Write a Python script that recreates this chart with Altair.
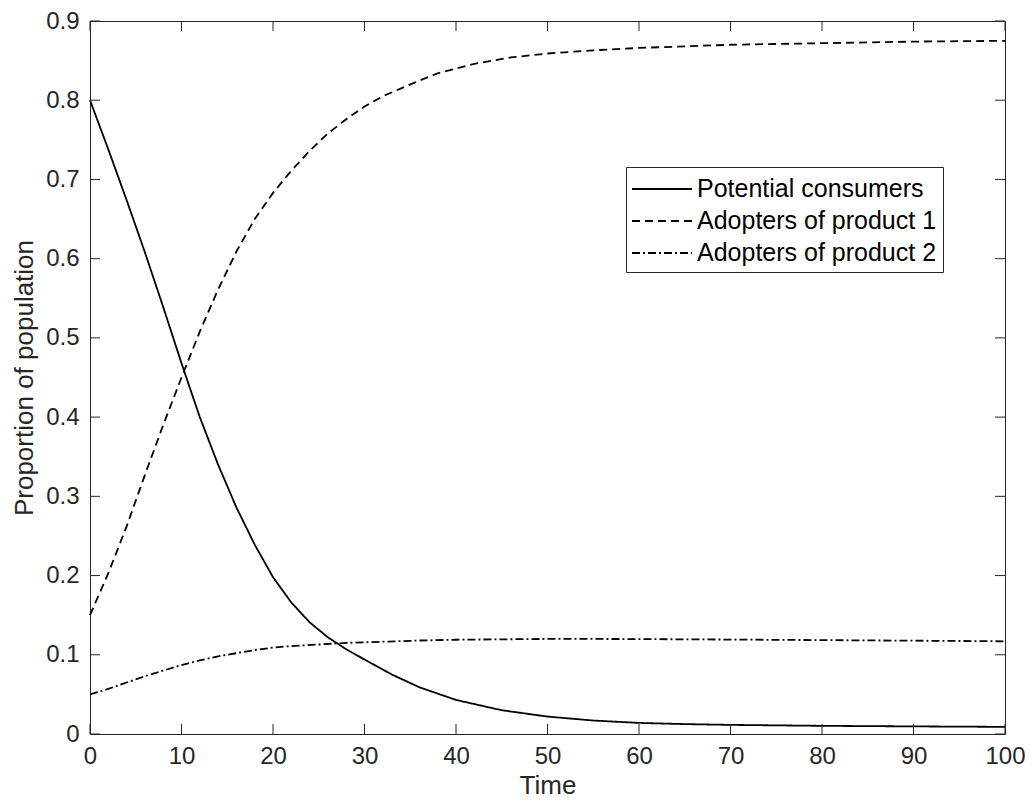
import altair as alt
import pandas as pd

# ---- data ----
series_names = ["Potential consumers", "Adopters of product 1", "Adopters of product 2"]

t_pc = [0, 2, 4, 6, 8, 10, 12, 14, 16, 18, 20, 22, 24, 26, 28, 30, 33, 36, 40, 45, 50, 55, 60, 65, 70, 80, 90, 100]
v_pc = [0.800, 0.738, 0.674, 0.608, 0.539, 0.468, 0.400, 0.340, 0.286, 0.239, 0.198, 0.166, 0.141, 0.122,
        0.107, 0.094, 0.075, 0.059, 0.043, 0.030, 0.022, 0.017, 0.014, 0.0125, 0.0115, 0.0103, 0.0096, 0.009]

t_a1 = [0, 2, 4, 6, 8, 10, 12, 14, 16, 18, 20, 22, 24, 26, 28, 30, 32, 35, 38, 42, 46, 50, 55, 60, 70, 80, 90, 100]
v_a1 = [0.150, 0.203, 0.262, 0.327, 0.390, 0.450, 0.508, 0.561, 0.609, 0.650, 0.683, 0.711, 0.736, 0.758,
        0.776, 0.792, 0.805, 0.820, 0.834, 0.846, 0.854, 0.859, 0.863, 0.866, 0.870, 0.872, 0.874, 0.875]

t_a2 = [0, 2, 4, 6, 8, 10, 12, 14, 16, 18, 20, 22, 25, 28, 32, 36, 40, 45, 50, 55, 60, 70, 80, 90, 100]
v_a2 = [0.050, 0.057, 0.065, 0.073, 0.080, 0.087, 0.093, 0.098, 0.102, 0.106, 0.109, 0.111, 0.113, 0.115,
        0.1165, 0.118, 0.119, 0.1195, 0.120, 0.120, 0.1198, 0.1192, 0.1185, 0.1178, 0.117]

x_ticks = [0, 10, 20, 30, 40, 50, 60, 70, 80, 90, 100]
y_ticks = [0, 0.1, 0.2, 0.3, 0.4, 0.5, 0.6, 0.7, 0.8, 0.9]

# ---- build tables ----
rows = []
for name, ts, vs in zip(series_names, [t_pc, t_a1, t_a2], [v_pc, v_a1, v_a2]):
    for t, v in zip(ts, vs):
        rows.append({"series": name, "t": t, "v": v})
df = pd.DataFrame(rows)
xt = pd.DataFrame({"t": x_ticks})
yt = pd.DataFrame({"v": y_ticks})

W, H = 915, 713
FONT = "Liberation Sans"
AX = "#262626"
TL = 10

xs = alt.Scale(domain=[0, 100], nice=False, zero=False)
ys = alt.Scale(domain=[0, 0.9], nice=False, zero=False)

common = dict(labelFont=FONT, labelFontSize=24, labelColor=AX, labelFlush=False,
              titleFont=FONT, titleFontSize=26, titleFontWeight="normal", titleColor=AX,
              ticks=False, domain=False, grid=False)
x_axis = alt.Axis(values=x_ticks, title="Time", labelPadding=10, titlePadding=4, **common)
y_axis = alt.Axis(values=y_ticks, format="~g", title="Proportion of population",
                  labelPadding=11, titlePadding=8, **common)

lines = alt.Chart(df).mark_line(color="black", strokeWidth=1.8).encode(
    x=alt.X("t:Q", scale=xs, axis=x_axis),
    y=alt.Y("v:Q", scale=ys, axis=y_axis),
    strokeDash=alt.StrokeDash(
        "series:N",
        scale=alt.Scale(domain=series_names, range=[[1, 0], [8, 5], [8, 3, 2, 3]]),
        legend=alt.Legend(
            title=None, orient="none", legendX=536, legendY=146,
            symbolType="M-2,0H2", symbolSize=900, symbolStrokeWidth=1.8,
            symbolStrokeColor="black", symbolOffset=14, labelOffset=19,
            labelFont=FONT, labelFontSize=25,
            labelColor="black", strokeColor=AX, fillColor="white",
            padding=6, rowPadding=3, labelLimit=500,
        ),
    ),
)

bottom = alt.Chart(xt).mark_rule(color=AX, strokeWidth=1).encode(
    x=alt.X("t:Q", scale=xs), y=alt.value(H), y2=alt.value(H - TL))
top = alt.Chart(xt).mark_rule(color=AX, strokeWidth=1).encode(
    x=alt.X("t:Q", scale=xs), y=alt.value(0), y2=alt.value(TL))
left = alt.Chart(yt).mark_rule(color=AX, strokeWidth=1).encode(
    y=alt.Y("v:Q", scale=ys), x=alt.value(0), x2=alt.value(TL))
right = alt.Chart(yt).mark_rule(color=AX, strokeWidth=1).encode(
    y=alt.Y("v:Q", scale=ys), x=alt.value(W), x2=alt.value(W - TL))

chart = alt.layer(lines, bottom, top, left, right).properties(
    width=W, height=H,
    autosize=alt.AutoSizeParams(type="none"),
    padding={"left": 82, "top": 13, "right": 20, "bottom": 68},
).configure_view(stroke=AX, strokeWidth=1)

chart.save("out.html", embed_options={"renderer": "svg", "actions": False})
